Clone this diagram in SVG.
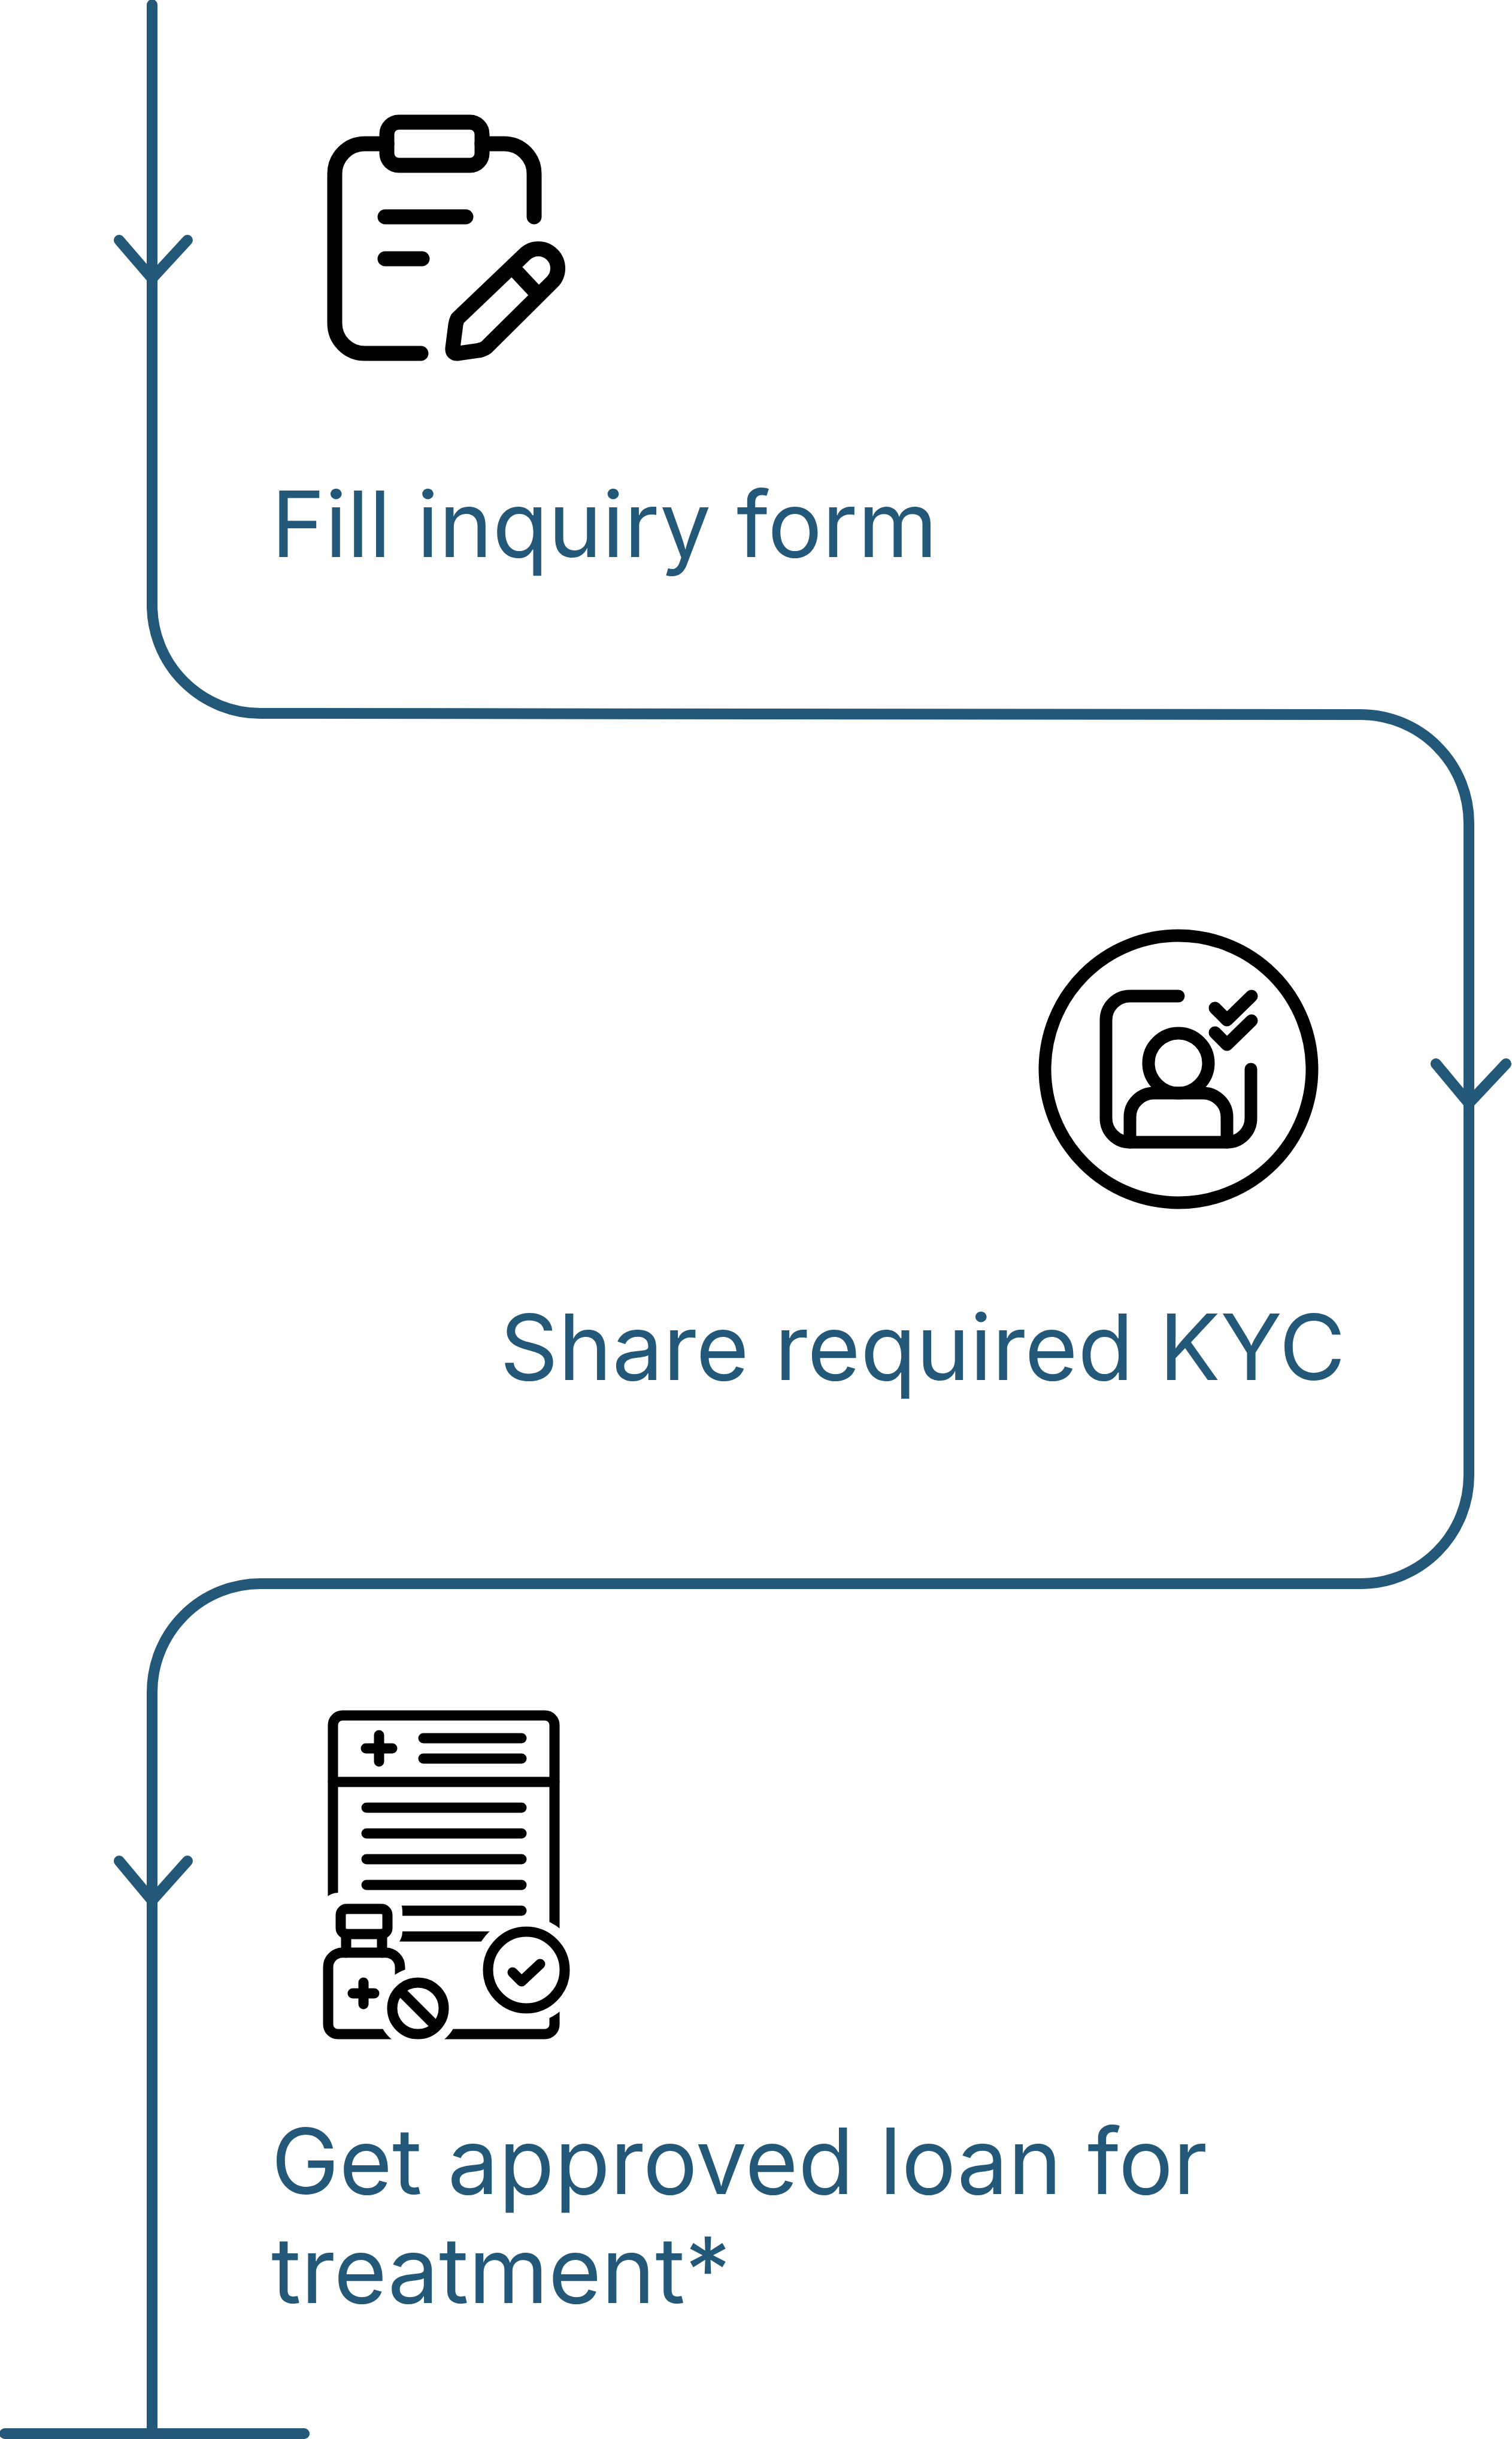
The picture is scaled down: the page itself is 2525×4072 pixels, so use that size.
<svg xmlns="http://www.w3.org/2000/svg" width="2525" height="4072" viewBox="0 0 2525 4072">
<style>
.c{fill:none;stroke:#235878;stroke-width:18;stroke-linecap:round;stroke-linejoin:round}
.t{font-family:Inter,"Liberation Sans",sans-serif;font-size:152px;font-weight:400;fill:#235878}
.i1{fill:none;stroke:#000;stroke-width:25;stroke-linecap:round;stroke-linejoin:round}
.i2{fill:none;stroke:#000;stroke-width:21;stroke-linecap:round;stroke-linejoin:round}
.i3{fill:none;stroke:#000;stroke-width:17;stroke-linecap:round;stroke-linejoin:round}
.b{stroke-linecap:butt}
</style>
<rect width="2525" height="4072" fill="#fff"/>
<g id="connectors">
<path class="c" d="M254 8V1010A181 181 0 0 0 435 1191L2272 1193A181 181 0 0 1 2453 1374V2463A181 181 0 0 1 2272 2644H435A181 181 0 0 0 254 2825V4063"/>
<path class="c" d="M8 4063H508"/>
<path class="c" d="M199 401L254 465L313 401"/>
<path class="c" d="M2398 1776L2453 1842L2515 1776"/>
<path class="c" d="M199 3107L254 3173L313 3107"/>
</g>
<g id="node-fill-inquiry-form">
<path class="i1" d="M646 240H609A50 50 0 0 0 559 290V540A50 50 0 0 0 609 590H703"/>
<path class="i1" d="M805 240H842A50 50 0 0 1 892 290V362"/>
<rect class="i1" x="646" y="204" width="159" height="72" rx="20"/>
<path class="i1" d="M643 362H778M643 432H705"/>
<path class="i1" d="M764 532L876 425A32 32 0 0 1 922 471L812 580Q808 583 800 585L765 590Q755 591 756 581L761 542Q762 536 764 532ZM862 453L892 485"/>
<text class="t" x="453" y="930">Fill inquiry form</text>
</g>
<g id="node-share-required-kyc">
<circle class="i2" cx="1968" cy="1785" r="223"/>
<path class="i2" d="M1968 1663H1887A40 40 0 0 0 1847 1703V1867A40 40 0 0 0 1887 1907H2049A40 40 0 0 0 2089 1867V1785"/>
<circle class="i2" cx="1968" cy="1775" r="50"/>
<path class="i2" d="M1887 1907V1865A40 40 0 0 1 1927 1825H2009A40 40 0 0 1 2049 1865V1907"/>
<path class="i2" d="M2029 1683L2049 1703L2090 1663M2029 1724L2049 1744L2090 1704"/>
<text class="t" x="2247" y="2304" text-anchor="end">Share required KYC</text>
</g>
<g id="node-get-approved-loan">
<rect class="i3" x="556" y="2864" width="370" height="532" rx="16"/>
<path class="i3" d="M556 2975H926"/>
<path class="i3" d="M633 2897V2941M611 2919H655M707 2902H871M707 2936H871M612 3018H871M612 3061H871M612 3104H871M612 3147H871M660 3190H871M660 3233H830"/>
<circle cx="879" cy="3289" r="89" fill="#fff"/>
<rect x="535" y="3160" width="137" height="95" rx="30" fill="#fff"/>
<rect x="530" y="3245" width="150" height="165" fill="#fff"/>
<rect class="i3" x="569" y="3187" width="78" height="42" rx="10"/>
<path class="i3" d="M578 3229V3260M638 3229V3260"/>
<path class="i3 b" d="M668 3300V3284A24 24 0 0 0 644 3260H572A24 24 0 0 0 548 3284V3380A16 16 0 0 0 564 3396H660"/>
<path class="i3" d="M607 3310V3346M589 3328H625"/>
<circle cx="698" cy="3353" r="68" fill="#fff"/>
<circle class="i3" cx="698" cy="3353" r="43"/>
<path class="i3 b" d="M668 3323L728 3383"/>
<circle class="i3" cx="879" cy="3289" r="64"/>
<path class="i3" d="M856 3293L871 3308L902 3279"/>
<text class="t" x="453" y="3663">Get approved loan for</text>
<text class="t" x="453" y="3845">treatment*</text>
</g>
</svg>
